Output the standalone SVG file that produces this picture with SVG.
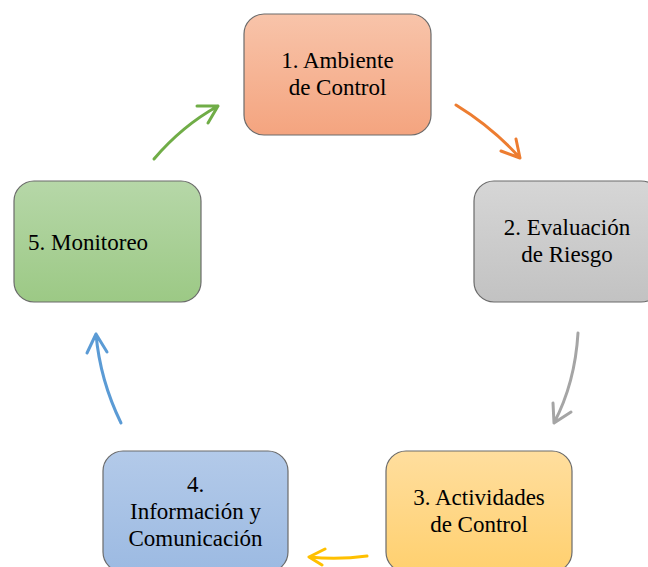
<svg xmlns="http://www.w3.org/2000/svg" width="648" height="567" viewBox="0 0 648 567">
<style>
.box{stroke:#6b6b6b;stroke-width:1.2}
.t{font-family:"Liberation Serif","Tinos","Times New Roman","Times","Noto Serif","DejaVu Serif",serif;font-size:23px;fill:#000;text-anchor:middle}
.c{fill:none;stroke-width:3;stroke-linecap:round;stroke-linejoin:round}
</style>
<defs>
<linearGradient id="g1" x1="0" y1="0" x2="0" y2="1"><stop offset="0" stop-color="#F8C4AA"/><stop offset="1" stop-color="#F4A47F"/></linearGradient>
<linearGradient id="g2" x1="0" y1="0" x2="0" y2="1"><stop offset="0" stop-color="#D6D6D6"/><stop offset="1" stop-color="#C2C2C2"/></linearGradient>
<linearGradient id="g3" x1="0" y1="0" x2="0" y2="1"><stop offset="0" stop-color="#FFDE9E"/><stop offset="1" stop-color="#FFD06F"/></linearGradient>
<linearGradient id="g4" x1="0" y1="0" x2="0" y2="1"><stop offset="0" stop-color="#B3CAE9"/><stop offset="1" stop-color="#9CBAE2"/></linearGradient>
<linearGradient id="g5" x1="0" y1="0" x2="0" y2="1"><stop offset="0" stop-color="#B6D7A8"/><stop offset="1" stop-color="#9CC985"/></linearGradient>
</defs>
<rect width="648" height="567" fill="#fff"/>
<g id="connectors">
<path class="c" stroke="#ED7D31" d="M456,105 Q492,127 520,158 M501,151 L520,158 L516,139"/>
<path class="c" stroke="#A5A5A5" d="M578,333 Q575,383 554,423 M553,403 L554,423 L571,412"/>
<path class="c" stroke="#FFC000" d="M367,556 Q338,560 309,557 M325,549 L309,557 L322,565"/>
<path class="c" stroke="#5B9BD5" d="M121,423 Q100,380 96,334 M87,353 L96,334 L107,352"/>
<path class="c" stroke="#70AD47" d="M154,159 Q182,126 218,106 M197,106 L218,106 L208,123"/>
</g>
<g id="node1">
<rect class="box" x="244" y="14" width="187" height="121" rx="20" fill="url(#g1)"/>
<text class="t" x="337.5" y="68">1. Ambiente</text>
<text class="t" x="337.5" y="95">de Control</text>
</g>
<g id="node2">
<rect class="box" x="474" y="181" width="187" height="121" rx="20" fill="url(#g2)"/>
<text class="t" x="567" y="235">2. Evaluación</text>
<text class="t" x="567" y="262">de Riesgo</text>
</g>
<g id="node3">
<rect class="box" x="386" y="451" width="186" height="121" rx="20" fill="url(#g3)"/>
<text class="t" x="479" y="505">3. Actividades</text>
<text class="t" x="479" y="532">de Control</text>
</g>
<g id="node4">
<rect class="box" x="103" y="451" width="185" height="121" rx="20" fill="url(#g4)"/>
<text class="t" x="195.5" y="492">4.</text>
<text class="t" x="195.5" y="519">Información y</text>
<text class="t" x="195.5" y="546">Comunicación</text>
</g>
<g id="node5">
<rect class="box" x="14" y="181" width="187" height="121" rx="20" fill="url(#g5)"/>
<text class="t" x="28" y="250" style="text-anchor:start">5. Monitoreo</text>
</g>
</svg>
